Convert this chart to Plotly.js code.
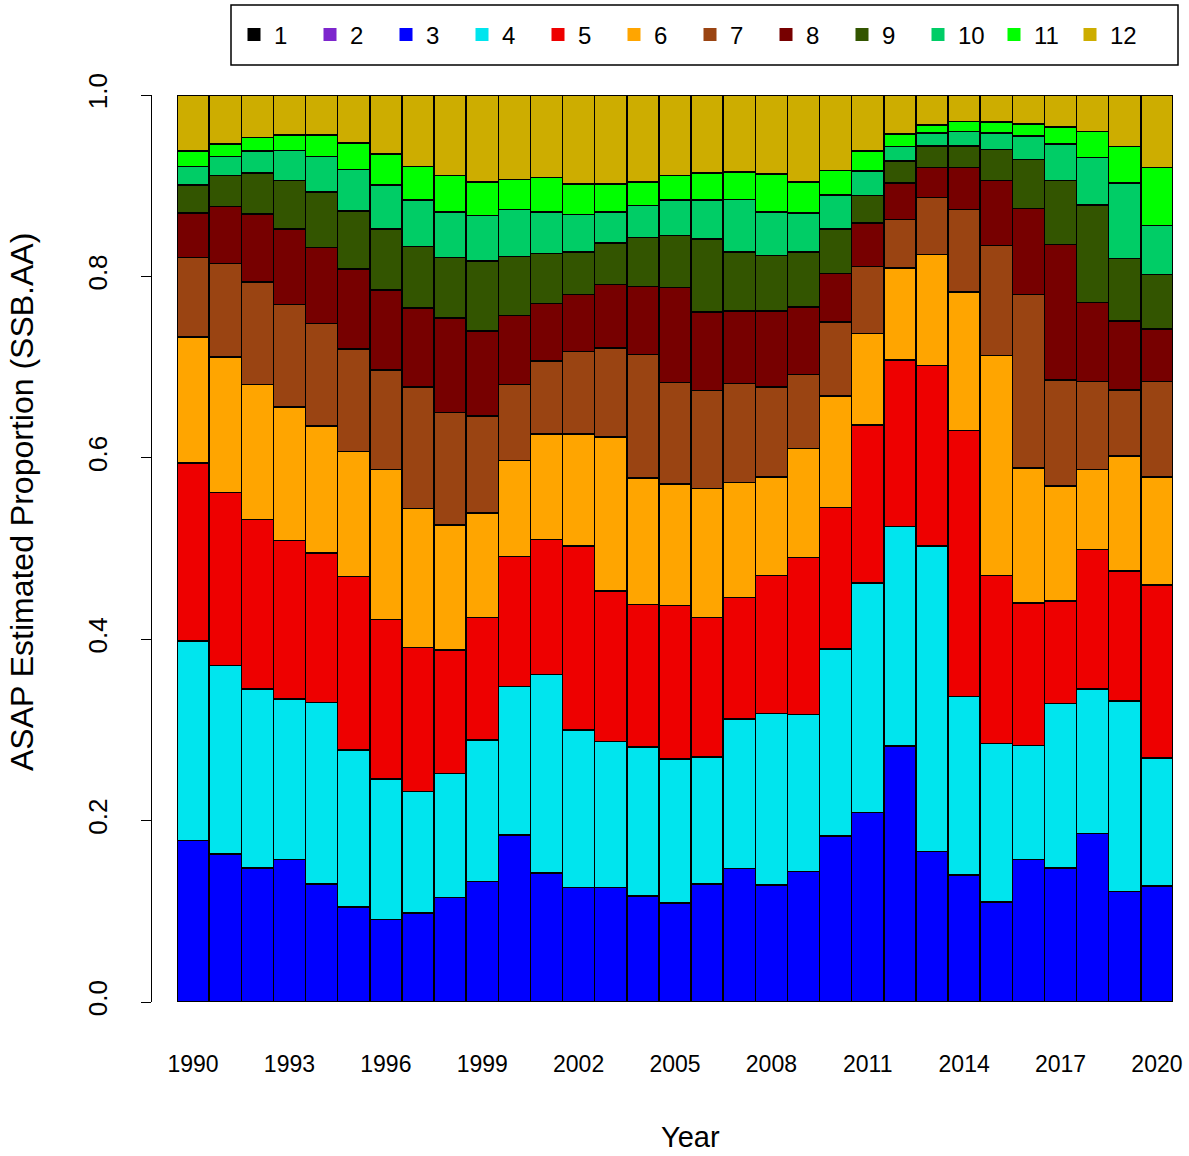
<!DOCTYPE html>
<html>
<head>
<meta charset="utf-8">
<script src="https://cdn.plot.ly/plotly-3.0.1.min.js"></script>
<style>html,body{margin:0;padding:0;background:#fff;}#chart{width:1189px;height:1156px;}</style>
</head>
<body>
<div id="chart"></div>
<script>
var years = [1990,1991,1992,1993,1994,1995,1996,1997,1998,1999,2000,2001,2002,2003,2004,2005,2006,2007,2008,2009,2010,2011,2012,2013,2014,2015,2016,2017,2018,2019,2020];
var ageNames = ["1","2","3","4","5","6","7","8","9","10","11","12"];
var ageColors = ["#000000","#7D26CD","#0000FF","#00E5EE","#EE0000","#FFA500","#9A4412","#770000","#335500","#00CD66","#00FF00","#CDAD00"];

var age1 = [0,0,0,0,0,0,0,0,0,0,0,0,0,0,0,0,0,0,0,0,0,0,0,0,0,0,0,0,0,0,0];
var age2 = [0,0,0,0,0,0,0,0,0,0,0,0,0,0,0,0,0,0,0,0,0,0,0,0,0,0,0,0,0,0,0];
var age3 = [.178,.163,.148,.157,.130,.105,.091,.098,.115,.133,.184,.142,.126,.126,.117,.109,.130,.147,.129,.144,.183,.209,.282,.166,.140,.110,.157,.148,.186,.122,.128];
var age4 = [.220,.208,.197,.177,.200,.173,.155,.134,.137,.156,.164,.219,.174,.161,.164,.159,.140,.165,.189,.173,.206,.253,.242,.337,.197,.175,.126,.181,.159,.210,.141];
var age5 = [.196,.191,.187,.175,.165,.191,.176,.159,.136,.135,.143,.149,.203,.166,.157,.169,.154,.134,.152,.173,.156,.174,.184,.199,.293,.185,.157,.113,.154,.143,.191];
var age6 = [.139,.149,.149,.147,.140,.138,.165,.153,.138,.115,.106,.116,.123,.170,.140,.134,.142,.127,.109,.120,.123,.101,.101,.122,.153,.243,.149,.127,.088,.127,.119];
var age7 = [.088,.103,.113,.113,.113,.113,.110,.134,.124,.107,.084,.081,.091,.098,.136,.112,.108,.109,.099,.082,.082,.074,.054,.063,.091,.121,.191,.117,.097,.073,.105];
var age8 = [.049,.063,.075,.083,.084,.088,.088,.087,.104,.094,.076,.063,.063,.070,.075,.105,.087,.080,.084,.074,.053,.048,.040,.033,.046,.072,.095,.149,.087,.076,.058];
var age9 = [.031,.034,.045,.054,.061,.064,.067,.068,.067,.077,.065,.055,.047,.046,.054,.057,.080,.065,.061,.061,.049,.030,.024,.024,.024,.034,.054,.071,.108,.069,.060];
var age10 = [.020,.021,.024,.033,.039,.046,.049,.051,.050,.050,.052,.046,.041,.034,.035,.039,.043,.058,.048,.043,.038,.027,.016,.014,.016,.018,.026,.040,.052,.083,.054];
var age11 = [.017,.014,.015,.017,.024,.029,.034,.037,.040,.037,.033,.038,.034,.031,.026,.027,.030,.030,.042,.034,.027,.022,.014,.009,.011,.012,.013,.019,.029,.040,.064];
var age12 = [.062,.054,.047,.044,.044,.053,.065,.079,.089,.096,.093,.091,.098,.098,.096,.089,.086,.085,.087,.096,.083,.062,.043,.033,.029,.030,.032,.035,.040,.057,.080];

var yTicks = [0, 0.2, 0.4, 0.6, 0.8, 1.0];
var xTicks = [1990,1993,1996,1999,2002,2005,2008,2011,2014,2017,2020];

var series = [age1,age2,age3,age4,age5,age6,age7,age8,age9,age10,age11,age12];
var traces = [];
series.forEach(function(v, i){
  traces.push({
    type: 'bar', x: years, y: v, name: ageNames[i], showlegend: false,
    marker: {color: ageColors[i], line: {color: '#000000', width: 1.5}},
    hoverinfo: 'x+y+name'
  });
});
series.forEach(function(v, i){
  traces.push({
    type: 'scatter', mode: 'markers', x: [null], y: [null], name: ageNames[i],
    marker: {symbol: 'square', size: 13, color: ageColors[i], line: {width: 0}},
    showlegend: true
  });
});

var L = 151, R = 16, T = 95, B = 154;
var plotW = 1189 - L - R, plotH = 1156 - T - B;
function px2x(p){ return (p - L) / plotW; }
function px2y(p){ return (1156 - B - p) / plotH; }

var layout = {
  width: 1189, height: 1156,
  margin: {l: L, r: R, t: T, b: B, pad: 0, autoexpand: false},
  paper_bgcolor: '#ffffff', plot_bgcolor: '#ffffff',
  font: {family: 'Liberation Sans, Arial, sans-serif', color: '#000000'},
  barmode: 'stack', bargap: 0,
  xaxis: {
    domain: [px2x(177), 1], range: [1989.5, 2020.5],
    tickvals: xTicks, ticktext: xTicks.map(String),
    ticks: '', showline: false, showgrid: false, zeroline: false,
    tickfont: {size: 23}, ticklabelstandoff: 46, automargin: false
  },
  yaxis: {
    anchor: 'free', position: 0, range: [0, 1],
    tickvals: yTicks, tickformat: '.1f',
    ticks: 'outside', ticklen: 10, tickwidth: 1, tickcolor: '#000000',
    showline: true, linecolor: '#000000', linewidth: 1,
    showgrid: false, zeroline: false, tickangle: -90,
    tickfont: {size: 26}, ticklabelstandoff: 24, automargin: false
  },
  annotations: [
    {text: 'Year', xref: 'paper', yref: 'paper', x: px2x(690), y: px2y(1137),
     xanchor: 'center', yanchor: 'middle', showarrow: false, font: {size: 29}},
    {text: 'ASAP Estimated Proportion (SSB.AA)', xref: 'paper', yref: 'paper',
     x: px2x(22), y: px2y(502), xanchor: 'center', yanchor: 'middle',
     textangle: -90, showarrow: false, font: {size: 32}}
  ],
  legend: {
    orientation: 'h', traceorder: 'normal',
    x: px2x(234), xanchor: 'left', y: px2y(35), yanchor: 'middle',
    font: {size: 24}, bgcolor: 'rgba(0,0,0,0)', borderwidth: 0,
    entrywidth: 31, entrywidthmode: 'pixels', itemclick: false
  },
  shapes: [{
    type: 'rect', xref: 'paper', yref: 'paper',
    x0: px2x(231), x1: px2x(1178), y0: px2y(5), y1: px2y(65),
    line: {color: '#000000', width: 1.5}, fillcolor: 'rgba(0,0,0,0)'
  }],
  showlegend: true
};

Plotly.newPlot('chart', traces, layout, {displayModeBar: false, staticPlot: true});
</script>
</body>
</html>
